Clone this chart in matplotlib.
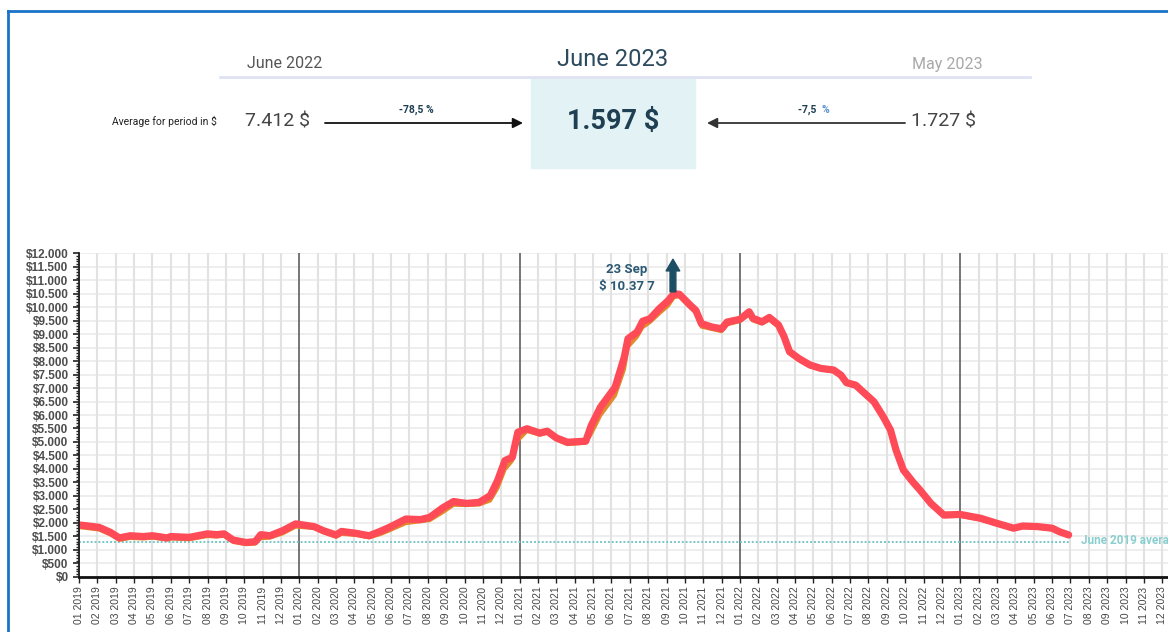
import matplotlib
matplotlib.use("Agg")
import matplotlib.pyplot as plt
from matplotlib.lines import Line2D
from matplotlib.patches import Rectangle, FancyArrowPatch
from matplotlib.ticker import MultipleLocator, FuncFormatter

# ---------------- data ----------------
years = [2019, 2020, 2021, 2022, 2023]
tick_labels = [f"{m:02d} {y}" for y in years for m in range(1, 13)]

# months since Jan 2019 (0 = 01 2019)
months = [0.0, 0.4, 1.1, 1.7, 2.2, 2.8, 3.5, 4.0, 4.8, 5.0,
          6.0, 7.0, 7.5, 7.9, 8.4, 9.1, 9.6, 9.9, 10.4, 11.1,
          11.8, 12.8, 13.3, 14.0, 14.3, 15.1, 15.8, 16.4, 16.9, 17.8,
          18.6, 19.1, 19.8, 20.4, 21.1, 21.8, 22.4, 22.8, 23.2, 23.6,
          23.9, 24.4, 25.1, 25.5, 26.0, 26.6, 27.6, 27.9, 28.4, 29.2,
          29.7, 29.9, 30.4, 30.7, 31.1, 31.6, 32.1, 32.4, 32.7, 33.3,
          33.6, 33.9, 34.5, 35.0, 35.3, 36.0, 36.5, 36.7, 37.2, 37.6,
          38.1, 38.4, 38.7, 39.2, 39.8, 40.4, 41.1, 41.5, 41.8, 42.3,
          42.7, 43.3, 43.8, 44.2, 44.5, 44.9, 45.4, 45.8, 46.4, 47.1,
          48.0, 49.1, 50.0, 50.9, 51.4, 52.2, 53.0, 53.4, 53.9]

# smoothed price (thousand $)
price_red = [1.92, 1.89, 1.83, 1.65, 1.44, 1.52, 1.49, 1.52, 1.44, 1.49,
             1.46, 1.59, 1.56, 1.59, 1.36, 1.27, 1.30, 1.56, 1.52, 1.71,
             1.96, 1.86, 1.71, 1.55, 1.68, 1.61, 1.52, 1.68, 1.83, 2.14,
             2.12, 2.20, 2.55, 2.79, 2.72, 2.76, 3.01, 3.57, 4.31, 4.43,
             5.36, 5.49, 5.33, 5.40, 5.15, 4.99, 5.03, 5.61, 6.29, 7.03,
             8.15, 8.83, 9.08, 9.48, 9.57, 9.94, 10.25, 10.50, 10.48, 10.07,
             9.88, 9.39, 9.26, 9.20, 9.45, 9.55, 9.83, 9.59, 9.46, 9.62,
             9.34, 8.91, 8.35, 8.10, 7.86, 7.73, 7.67, 7.48, 7.20, 7.11,
             6.86, 6.49, 5.94, 5.44, 4.70, 3.96, 3.53, 3.22, 2.72, 2.29,
             2.31, 2.17, 1.98, 1.80, 1.88, 1.86, 1.80, 1.67, 1.55]

price_orange = [1.83, 1.80, 1.74, 1.56, 1.36, 1.43, 1.41, 1.44, 1.37, 1.41,
                1.38, 1.50, 1.48, 1.51, 1.28, 1.20, 1.22, 1.42, 1.44, 1.60,
                1.85, 1.80, 1.64, 1.47, 1.58, 1.54, 1.45, 1.57, 1.71, 1.98,
                2.05, 2.09, 2.38, 2.66, 2.65, 2.67, 2.82, 3.28, 3.98, 4.30,
                5.05, 5.40, 5.26, 5.33, 5.08, 4.91, 4.96, 5.30, 5.98, 6.72,
                7.70, 8.52, 8.90, 9.25, 9.44, 9.76, 10.06, 10.36, 10.40, 9.98,
                9.78, 9.27, 9.18, 9.10, 9.35, 9.48, 9.72, 9.50, 9.38, 9.53,
                9.26, 8.83, 8.28, 8.03, 7.80, 7.68, 7.61, 7.42, 7.14, 7.05,
                6.80, 6.43, 5.88, 5.38, 4.64, 3.90, 3.47, 3.16, 2.66, 2.23,
                2.25, 2.11, 1.93, 1.75, 1.83, 1.81, 1.75, 1.62, 1.50]

ref_value = 1.30          # June 2019 average (thousand $)
ref_label = "June 2019 average"
peak_month = 32.35
peak_value = 10.52
peak_label = "23 Sep\n$ 10.37 7"

header_periods = ["June 2022", "June 2023", "May 2023"]
header_values = ["7.412 $", "1.597 $", "1.727 $"]
header_changes = ["-78,5 %", "-7,5 "]
row_label = "Average for period in $"

# ---------------- figure ----------------
W, H = 1168, 632
fig = plt.figure(figsize=(W / 100, H / 100), dpi=100)
fig.patch.set_facecolor("white")


def fx(x):
    return x / W


def fy(y):
    return 1 - y / H


narrow = ["Liberation Sans Narrow", "Roboto", "DejaVu Sans"]
rob = ["Roboto", "DejaVu Sans"]

# blue frame
fig.add_artist(Line2D([fx(8), 1.0], [fy(11), fy(11)], color="#1a73c8", lw=2, transform=fig.transFigure))
fig.add_artist(Line2D([fx(8), fx(8)], [fy(11), 0], color="#1a73c8", lw=2, transform=fig.transFigure))

# header
fig.add_artist(Line2D([fx(220), fx(1030)], [fy(77), fy(77)], color="#dfe2f2", lw=2, transform=fig.transFigure))
fig.add_artist(Rectangle((fx(531), fy(168)), fx(695 - 531), (168 - 78) / H, color="#e3f2f4",
                         transform=fig.transFigure, zorder=0))
fig.text(fx(285), fy(64), header_periods[0], ha="center", va="center", fontsize=11.5, color="#555555", family=rob)
fig.text(fx(613), fy(60), header_periods[1], ha="center", va="center", fontsize=17, color="#2d4b5e", family=rob)
fig.text(fx(947), fy(64), header_periods[2], ha="center", va="center", fontsize=11.5, color="#a8a8a8", family=rob)

fig.text(fx(217), fy(121), row_label, ha="right", va="center", fontsize=7.5, color="#222222", family=narrow)
fig.text(fx(245), fy(121), header_values[0], ha="left", va="center", fontsize=14, color="#444444", family=narrow)
fig.text(fx(613), fy(122), header_values[1], ha="center", va="center", fontsize=19.5, color="#1f3f53",
         fontweight="bold", family=rob)
fig.text(fx(976), fy(122), header_values[2], ha="right", va="center", fontsize=14, color="#444444", family=narrow)

fig.add_artist(FancyArrowPatch((fx(325), fy(123)), (fx(523), fy(123)), transform=fig.transFigure,
                               arrowstyle="-|>,head_length=6,head_width=3", lw=1.3, color="#111111",
                               shrinkA=0, shrinkB=0))
fig.add_artist(FancyArrowPatch((fx(905), fy(123)), (fx(707), fy(123)), transform=fig.transFigure,
                               arrowstyle="-|>,head_length=6,head_width=3", lw=1.3, color="#333333",
                               shrinkA=0, shrinkB=0))
fig.text(fx(416), fy(110), header_changes[0], ha="center", va="center", fontsize=7.5, color="#1f3f53",
         fontweight="bold", family=narrow)
fig.text(fx(808), fy(110), header_changes[1], ha="center", va="center", fontsize=7.5, color="#1f3f53",
         fontweight="bold", family=narrow)
fig.text(fx(822), fy(110), "%", ha="left", va="center", fontsize=7.5, color="#5a8fd0",
         fontweight="bold", family=narrow)

# ---------------- chart ----------------
ax_left, ax_bottom = 79, 576.7
ax_top = 253.3
ax = fig.add_axes([fx(ax_left), fy(ax_bottom), 1 - fx(ax_left), (ax_bottom - ax_top) / H])
n_months = len(tick_labels)
ax.set_xlim(0, (W - ax_left) / 18.36)
ax.set_ylim(0, 12.0)
ax.set_facecolor("white")
ax.set_axisbelow(True)

# gridlines
for m in range(n_months):
    if m % 12 == 0:
        ax.axvline(m, color="#5f5f5f", lw=1.2, zorder=1.2)
    else:
        ax.axvline(m, color="#e2e2e2", lw=1.5, zorder=0.8)
ax.yaxis.set_major_locator(MultipleLocator(0.5))
ax.yaxis.set_minor_locator(MultipleLocator(0.1))
ax.grid(axis="y", which="major", color="#ebebeb", lw=1.2)

# reference line
ax.plot([0, months[-1]], [ref_value, ref_value], color="#79c7c7", lw=1.4, ls=(0, (1, 1)), zorder=2)
ax.text(months[-1] + 0.7, ref_value + 0.05, ref_label, color="#8acfcf", fontsize=8.5, fontweight="bold",
        va="center", ha="left", family=rob, clip_on=False)

# series
ax.plot(months, price_orange, color="#e08a2c", lw=2.6, zorder=3, solid_joinstyle="round")
ax.plot(months, price_red, color="#ff4a57", lw=5.2, zorder=4, solid_joinstyle="round", solid_capstyle="round")

# peak annotation
ax.add_patch(FancyArrowPatch((peak_month, peak_value + 0.05), (peak_month, 11.78),
                             arrowstyle="simple,head_length=0.6,head_width=0.7,tail_width=0.3",
                             mutation_scale=14, color="#1d4e63", zorder=5, shrinkA=0, shrinkB=0))
ax.text(29.85, 11.08, peak_label, ha="center", va="center", fontsize=9.5, color="#2b5872",
        fontweight="bold", family=rob, linespacing=1.45)

# axes styling
ax.set_xticks(range(n_months))
ax.set_xticklabels(tick_labels, rotation=90, fontsize=7.5, color="#444444", family=["Liberation Sans", "DejaVu Sans"])
ax.yaxis.set_major_formatter(FuncFormatter(lambda v, p: "$" + f"{v * 1000:,.0f}".replace(",", ".")))
ax.tick_params(axis="y", which="major", labelsize=8.5, labelcolor="#4d4d4d", length=4, width=1.2, color="#222222")
ax.tick_params(axis="y", which="minor", length=2.5, width=1, color="#222222")
ax.tick_params(axis="x", length=4, width=1, color="#222222", pad=3)
for lab in ax.get_yticklabels():
    lab.set_family(["Liberation Sans", "DejaVu Sans"])
    lab.set_fontweight("bold")
for s in ["top", "right"]:
    ax.spines[s].set_visible(False)
ax.spines["left"].set_color("#222222")
ax.spines["left"].set_linewidth(1.3)
ax.spines["bottom"].set_color("#111111")
ax.spines["bottom"].set_linewidth(2)
ax.spines["left"].set_zorder(6)
ax.spines["bottom"].set_zorder(6)

fig.savefig("out.png", dpi=100)
